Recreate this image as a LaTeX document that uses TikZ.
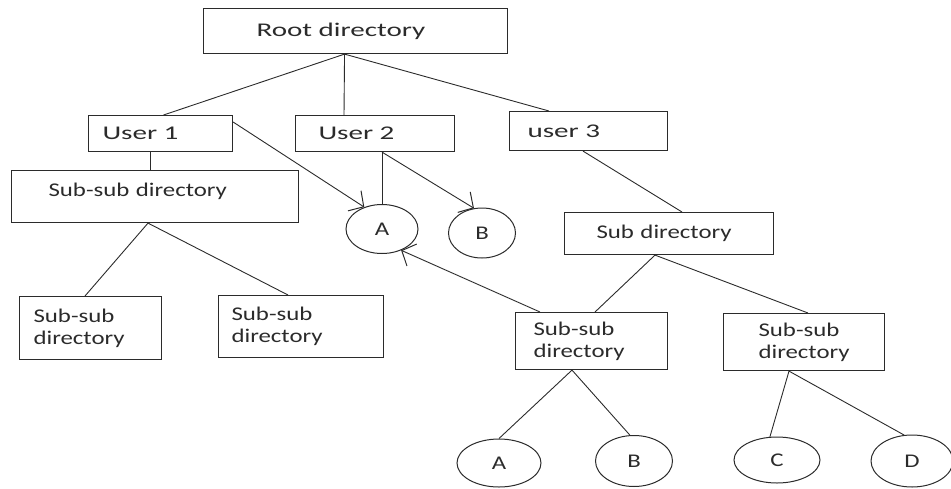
\documentclass[tikz,border=0pt]{standalone}
\usepackage{fontspec}
\setmainfont{Carlito}[FakeStretch=1.28]
\newfontfamily\topfont{Carlito}[FakeStretch=1.5]
\usepackage{tikz}
\usetikzlibrary{arrows.meta,shapes.geometric}
\definecolor{ink}{HTML}{2B2B2B}

\begin{document}
\begin{tikzpicture}[x=1pt, y=-1pt,
  box/.style={draw=ink, line width=1.1pt, anchor=north west, align=left, inner ysep=0pt, text=ink, font=\fontsize{19.4}{22}\selectfont},
  topbox/.style={box, font=\topfont\fontsize{19.4}{22}\selectfont},
  leaf/.style={draw=ink, ellipse, line width=1pt, inner sep=0pt, text=ink, font=\fontsize{19.4}{22}\selectfont},
  link/.style={draw=ink, line width=0.9pt},
  arr/.style={link, -{Straight Barb[length=11pt, width=24pt, line width=1pt]}}
]
\useasboundingbox (0,0) rectangle (951,488);
\node[topbox, minimum width=304pt, minimum height=45pt, inner xsep=53pt, text width=198pt] (root) at (203,8) {Root directory};
\node[topbox, minimum width=144pt, minimum height=36pt, inner xsep=14pt, text width=116pt] (u1) at (88,115) {User 1};
\node[topbox, minimum width=159pt, minimum height=36pt, inner xsep=23pt, text width=113pt] (u2) at (295,115) {User 2};
\node[topbox, minimum width=158pt, minimum height=39pt, inner xsep=18pt, text width=122pt] (u3) at (509,111) {user 3};
\node[box, minimum width=287pt, minimum height=52pt, inner xsep=37pt, text width=213pt, text depth=14pt] (ssd) at (11,170) {Sub-sub directory};
\node[box, minimum width=209pt, minimum height=42pt, inner xsep=32pt, text width=145pt] (sd) at (564,212) {Sub directory};
\node[box, minimum width=142pt, minimum height=63pt, inner xsep=14pt, text width=114pt] (ss1) at (19,296) {Sub-sub\\directory};
\node[box, minimum width=165pt, minimum height=62pt, inner xsep=13pt, text width=139pt] (ss2) at (218,295) {Sub-sub\\directory};
\node[box, minimum width=152pt, minimum height=57pt, inner xsep=18pt, text width=116pt] (ss3) at (515,312) {Sub-sub\\directory};
\node[box, minimum width=161pt, minimum height=57pt, inner xsep=35pt, text width=91pt] (ss4) at (723,313) {Sub-sub\\directory};
\node[leaf, minimum width=72pt, minimum height=49pt] (a1) at (382,229) {A};
\node[leaf, minimum width=67pt, minimum height=50pt] (b1) at (482,233) {B};
\node[leaf, minimum width=84pt, minimum height=48pt] (a2) at (499,463) {A};
\node[leaf, minimum width=77pt, minimum height=51pt] (b2) at (634,461) {B};
\node[leaf, minimum width=86pt, minimum height=46pt] (c2) at (777,460) {C};
\node[leaf, minimum width=82pt, minimum height=52pt] (d2) at (912,461) {D};
\draw[link] ([xshift=-11pt]root.south) -- ([xshift=3pt]u1.north);
\draw[link] ([xshift=-11pt]root.south) -- ([xshift=49pt]u2.north west);
\draw[link] ([xshift=-11pt]root.south) -- ([xshift=40pt]u3.north west);
\draw[link] ([xshift=62pt]u1.south west) -- ([xshift=139pt]ssd.north west);
\draw[arr] ([yshift=-7pt]u1.north east) -- (a1.129);
\draw[link] ([xshift=87pt]u2.south west) -- (a1.north);
\draw[arr] ([xshift=87pt]u2.south west) -- (b1.108);
\draw[link] ([xshift=74pt]u3.south west) -- ([xshift=118pt]sd.north west);
\draw[link] ([xshift=137pt]ssd.south west) -- ([xshift=66pt]ss1.north west);
\draw[link] ([xshift=137pt]ssd.south west) -- ([xshift=70pt]ss2.north west);
\draw[link] ([xshift=91pt]sd.south west) -- ([xshift=80pt]ss3.north west);
\draw[link] ([xshift=91pt]sd.south west) -- ([xshift=85pt]ss4.north west);
\draw[arr] ([xshift=25pt]ss3.north west) -- (a1.312);
\draw[link] ([xshift=57pt]ss3.south west) -- (a2.north);
\draw[link] ([xshift=57pt]ss3.south west) -- (b2.99);
\draw[link] ([xshift=66pt]ss4.south west) -- (c2.107);
\draw[link] ([xshift=66pt]ss4.south west) -- (d2.107);
\end{tikzpicture}
\end{document}
